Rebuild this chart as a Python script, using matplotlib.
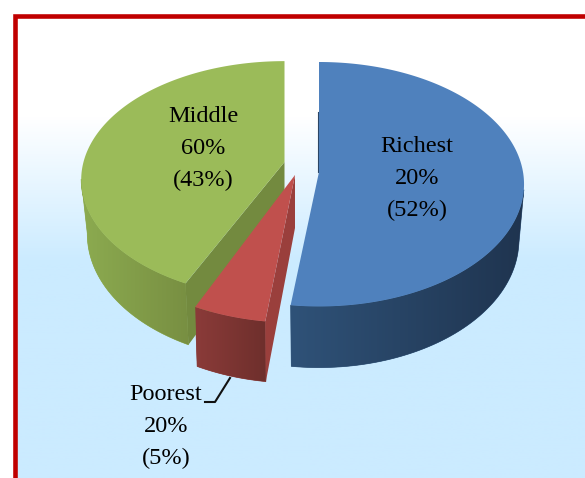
import numpy as np
import matplotlib.pyplot as plt
from matplotlib.colors import LinearSegmentedColormap
from matplotlib.patches import Polygon

names = ["Richest", "Poorest", "Middle"]
population = [20, 20, 60]
income = [52, 5, 43]

top_colors = ["#4f81bd", "#c0504d", "#9bbb59"]
cut_colors = ["#2a4565", "#9a3f3c", "#738a3f"]
wall_colors = [
    ("#2f5278", "#1f344f"),
    ("#8b3b39", "#6e2f2c"),
    ("#8cab50", "#788f42"),
]

# projection of each exploded slice:
# centre x, centre y, rx, ry, perspective, shrink of the lower rim
slice_geom = [
    (319, 172, 204, 121, 0.10, 0.975),
    (295, 175, 209, 130, 0.12, 0.98),
    (284.5, 162, 201, 116, 0.15, 0.97),
]
depths = [55, 53, 53]
label_pos = [(417, 179), (166, 427), (203, 149)]


def project(theta, geom):
    # theta runs clockwise from the far side of the pie
    cx, cy, rx, ry, k = geom[:5]
    u = np.sin(theta)
    v = np.cos(theta)
    w = 1 + k * v
    return cx + rx * u / w, cy - ry * v / w, w


def drawWall(ax, xs, ys, xb, yb, colors):
    # outer wall as a horizontal gradient clipped to the rim outline
    cmap = LinearSegmentedColormap.from_list("wall", colors)
    outline = np.c_[np.r_[xs, xb[::-1]], np.r_[ys, yb[::-1]]]
    patch = Polygon(outline, closed=True, facecolor=colors[0], edgecolor=colors[0], lw=0.5)
    ax.add_patch(patch)
    x0, x1 = outline[:, 0].min(), outline[:, 0].max()
    y0, y1 = outline[:, 1].min(), outline[:, 1].max()
    shade = np.linspace(0, 1, 256)[None, :]
    im = ax.imshow(shade, cmap=cmap, extent=(x0, x1, y1, y0), aspect="auto", zorder=2)
    im.set_clip_path(patch)


fig = plt.figure(figsize=(5.85, 4.78), dpi=100)
ax = fig.add_axes([0, 0, 1, 1])
ax.axis("off")

# white to pale blue background inside the frame
rows = np.clip((np.arange(478) - 105) / 150, 0, 1)
white = np.array([1.0, 1.0, 1.0])
blue = np.array([0xcb, 0xeb, 0xff]) / 255
bg = white + (blue - white) * rows[:, None]
ax.imshow(bg[:, None, :], extent=(14, 585, 478, 15), aspect="auto", zorder=0)

# red frame, open on the right and at the bottom
ax.plot(
    [14.7, 14.7, 585], [478, 15.7, 15.7],
    color="#c00000", lw=3.3, solid_joinstyle="miter", zorder=1,
)

fractions = np.array(income) / sum(income)
stops = np.r_[0, np.cumsum(fractions)] * 2 * np.pi

# far slices first so the red one overlaps the green
for i in [2, 0, 1]:
    geom = slice_geom[i]
    cx, cy = geom[0], geom[1]
    shrink = geom[5]
    t = np.linspace(stops[i], stops[i + 1], 300)
    x, y, w = project(t, geom)
    xb = cx + (x - cx) * shrink
    yb = y + depths[i] / w

    # the wall stops at the widest points of the rim
    keep = (t > np.radians(98)) & (t < np.radians(262))
    drawWall(ax, x[keep], y[keep], xb[keep], yb[keep], wall_colors[i])

    if i != 0:
        # cut face running back to the centre of the slice
        ax.fill(
            [cx, x[0], xb[0], cx],
            [cy, y[0], yb[0], cy + depths[i]],
            color=cut_colors[i], lw=0, zorder=2,
        )
    else:
        ax.plot([cx - 1, cx - 1], [cy - 60, cy], color=cut_colors[i], lw=0.8, zorder=2)
    ax.fill(np.r_[cx, x], np.r_[cy, y], color=top_colors[i], lw=0, zorder=2)

for i in range(len(names)):
    ax.text(
        label_pos[i][0],
        label_pos[i][1],
        "{0}\n{1}%\n({2}%)".format(names[i], population[i], income[i]),
        ha="center",
        va="center",
        ma="center",
        family="Liberation Serif",
        fontsize=17.5,
        linespacing=1.68,
        color="black",
        zorder=3,
    )

# leader line for the small slice
ax.plot([205, 215, 230], [402, 402, 378], color="#111111", lw=1.5, zorder=3)

ax.set_xlim(0, 585)
ax.set_ylim(478, 0)

fig.savefig("out.png", dpi=100)
